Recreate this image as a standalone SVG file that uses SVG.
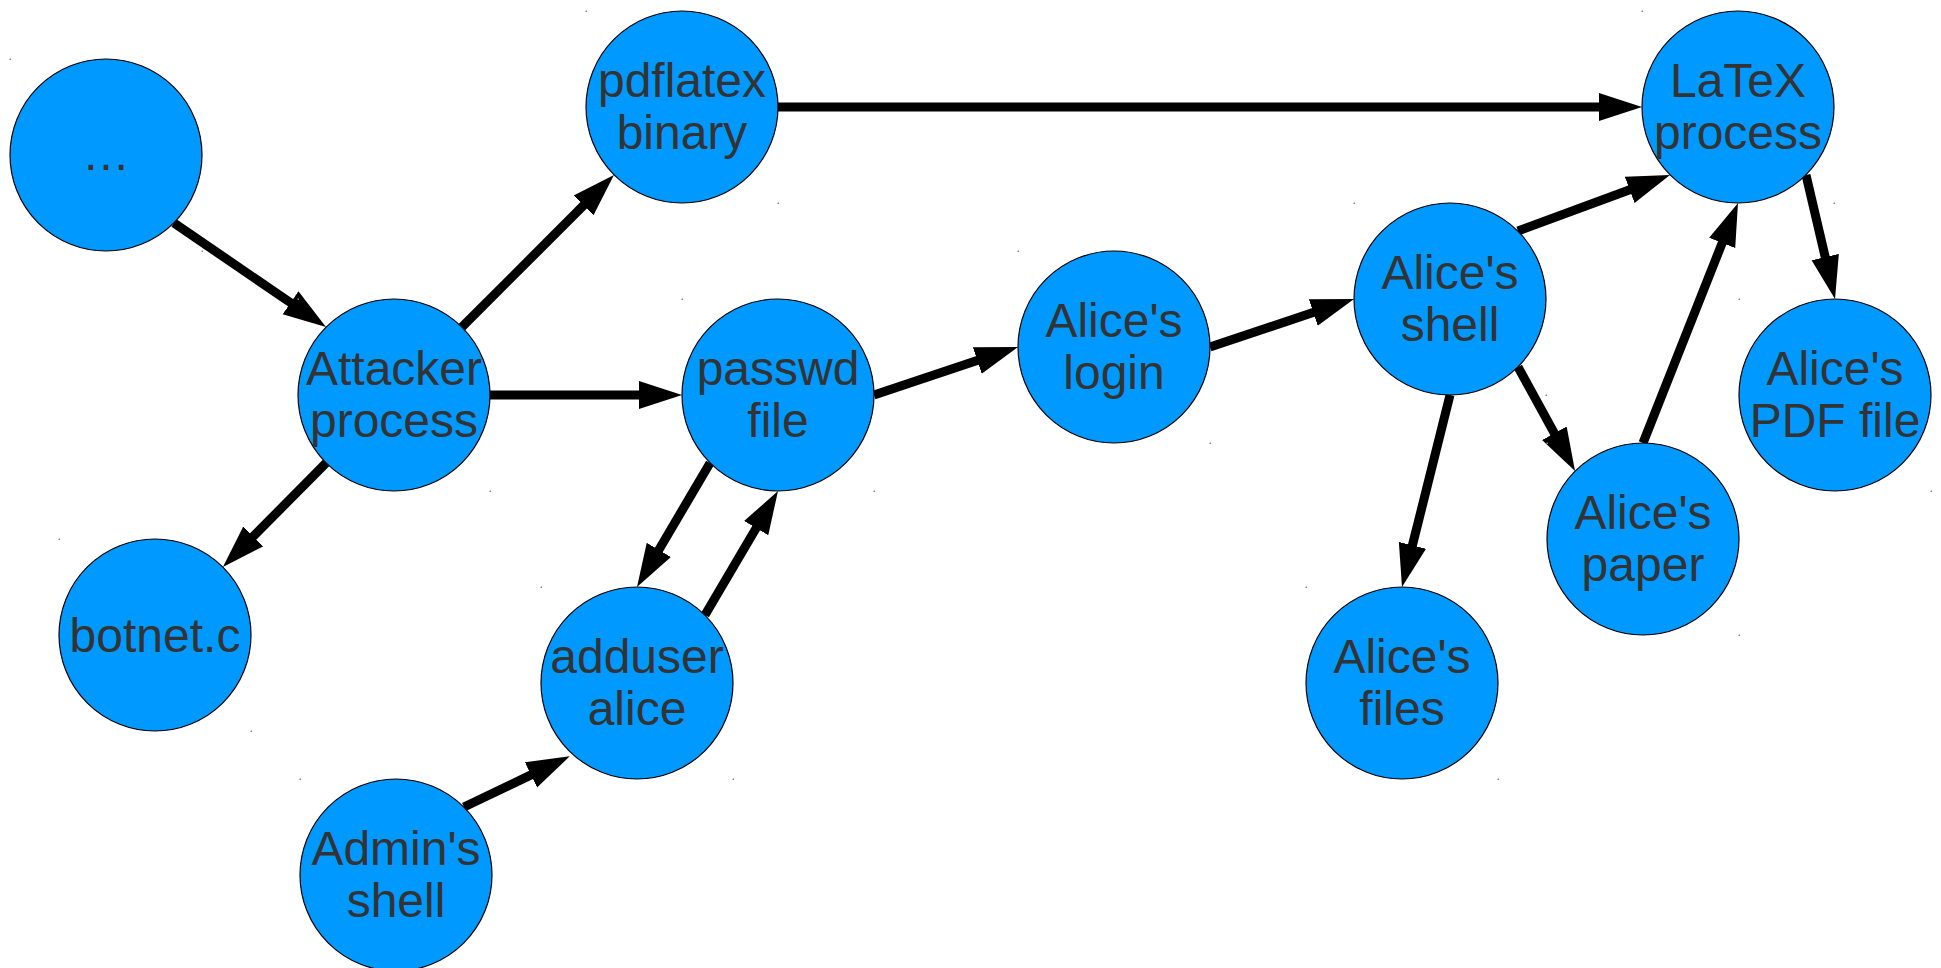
<svg xmlns="http://www.w3.org/2000/svg" width="1941" height="968" viewBox="0 0 1941 968">
  <style>
    .node circle { fill: #0099ff; stroke: #000; stroke-width: 1.2; }
    .node text { font-family: "Liberation Sans", Arial, sans-serif; font-size: 48px; fill: #333333; text-anchor: middle; }
    .corner { fill: #8a8a8a; }
    .edge { stroke: #000; stroke-width: 9; fill: none; marker-end: url(#arrow); }
  </style>
  <defs>
    <marker id="arrow" markerUnits="userSpaceOnUse" markerWidth="44" markerHeight="30" viewBox="0 0 44 30" refX="3" refY="15" orient="auto">
      <path d="M0,1 L43,15 L0,29 Z" fill="#000"/>
    </marker>
  </defs>
  <rect width="1941" height="968" fill="#ffffff"/>

  <!-- connectors: drawn first so arrowheads meet the circle outlines -->
  <g id="connectors">
    <line class="edge" x1="174" y1="223" x2="293" y2="304.4"/>
    <line class="edge" x1="462" y1="327" x2="585.7" y2="203.3"/>
    <line class="edge" x1="490" y1="395" x2="642" y2="395"/>
    <line class="edge" x1="326" y1="463" x2="251.1" y2="538.6"/>
    <line class="edge" x1="778" y1="107" x2="1602" y2="107"/>
    <line class="edge" x1="874" y1="395" x2="980.1" y2="359.6"/>
    <line class="edge" x1="1210" y1="347" x2="1316.1" y2="311.6"/>
    <line class="edge" x1="1518" y1="231" x2="1632.5" y2="188.8"/>
    <line class="edge" x1="1450" y1="395" x2="1411.7" y2="548.2"/>
    <line class="edge" x1="1518" y1="367" x2="1555.8" y2="435.9"/>
    <line class="edge" x1="1643" y1="443" x2="1723.3" y2="240.2"/>
    <line class="edge" x1="1806" y1="175" x2="1825.9" y2="260"/>
    <line class="edge" x1="710" y1="463" x2="657.3" y2="552.5"/>
    <line class="edge" x1="705" y1="615" x2="757.7" y2="525.5"/>
    <line class="edge" x1="464" y1="807" x2="533.7" y2="773.6"/>
  </g>

  <g id="node-ellipsis" class="node">
    <circle cx="106" cy="155" r="96"/>
    <text x="106" y="170">…</text>
    <rect class="corner" x="9.5" y="58.5" width="1.5" height="1.5"/>
    <rect class="corner" x="201.5" y="250.5" width="1.5" height="1.5"/>
  </g>
  <g id="node-pdflatex" class="node">
    <circle cx="682" cy="107" r="96"/>
    <text x="682" y="97">pdflatex</text>
    <text x="682" y="149">binary</text>
    <rect class="corner" x="585.5" y="10.5" width="1.5" height="1.5"/>
    <rect class="corner" x="777.5" y="202.5" width="1.5" height="1.5"/>
  </g>
  <g id="node-latex" class="node">
    <circle cx="1738" cy="107" r="96"/>
    <text x="1738" y="97">LaTeX</text>
    <text x="1738" y="149">process</text>
    <rect class="corner" x="1641.5" y="10.5" width="1.5" height="1.5"/>
    <rect class="corner" x="1833.5" y="202.5" width="1.5" height="1.5"/>
  </g>
  <g id="node-attacker" class="node">
    <circle cx="394" cy="395" r="96"/>
    <text x="394" y="385">Attacker</text>
    <text x="394" y="437">process</text>
    <rect class="corner" x="297.5" y="298.5" width="1.5" height="1.5"/>
    <rect class="corner" x="489.5" y="490.5" width="1.5" height="1.5"/>
  </g>
  <g id="node-passwd" class="node">
    <circle cx="778" cy="395" r="96"/>
    <text x="778" y="385">passwd</text>
    <text x="778" y="437">file</text>
    <rect class="corner" x="681.5" y="298.5" width="1.5" height="1.5"/>
    <rect class="corner" x="873.5" y="490.5" width="1.5" height="1.5"/>
  </g>
  <g id="node-alice-login" class="node">
    <circle cx="1114" cy="347" r="96"/>
    <text x="1114" y="337">Alice's</text>
    <text x="1114" y="389">login</text>
    <rect class="corner" x="1017.5" y="250.5" width="1.5" height="1.5"/>
    <rect class="corner" x="1209.5" y="442.5" width="1.5" height="1.5"/>
  </g>
  <g id="node-alice-shell" class="node">
    <circle cx="1450" cy="299" r="96"/>
    <text x="1450" y="289">Alice's</text>
    <text x="1450" y="341">shell</text>
    <rect class="corner" x="1353.5" y="202.5" width="1.5" height="1.5"/>
    <rect class="corner" x="1545.5" y="394.5" width="1.5" height="1.5"/>
  </g>
  <g id="node-alice-pdf" class="node">
    <circle cx="1835" cy="395" r="96"/>
    <text x="1835" y="385">Alice's</text>
    <text x="1835" y="437">PDF file</text>
    <rect class="corner" x="1738.5" y="298.5" width="1.5" height="1.5"/>
    <rect class="corner" x="1930.5" y="490.5" width="1.5" height="1.5"/>
  </g>
  <g id="node-alice-paper" class="node">
    <circle cx="1643" cy="539" r="96"/>
    <text x="1643" y="529">Alice's</text>
    <text x="1643" y="581">paper</text>
    <rect class="corner" x="1546.5" y="442.5" width="1.5" height="1.5"/>
    <rect class="corner" x="1738.5" y="634.5" width="1.5" height="1.5"/>
  </g>
  <g id="node-botnet" class="node">
    <circle cx="155" cy="635" r="96"/>
    <text x="155" y="652">botnet.c</text>
    <rect class="corner" x="58.5" y="538.5" width="1.5" height="1.5"/>
    <rect class="corner" x="250.5" y="730.5" width="1.5" height="1.5"/>
  </g>
  <g id="node-adduser" class="node">
    <circle cx="637" cy="683" r="96"/>
    <text x="637" y="673">adduser</text>
    <text x="637" y="725">alice</text>
    <rect class="corner" x="540.5" y="586.5" width="1.5" height="1.5"/>
    <rect class="corner" x="732.5" y="778.5" width="1.5" height="1.5"/>
  </g>
  <g id="node-alice-files" class="node">
    <circle cx="1402" cy="683" r="96"/>
    <text x="1402" y="673">Alice's</text>
    <text x="1402" y="725">files</text>
    <rect class="corner" x="1305.5" y="586.5" width="1.5" height="1.5"/>
    <rect class="corner" x="1497.5" y="778.5" width="1.5" height="1.5"/>
  </g>
  <g id="node-admin-shell" class="node">
    <circle cx="396" cy="875" r="96"/>
    <text x="396" y="865">Admin's</text>
    <text x="396" y="917">shell</text>
    <rect class="corner" x="299.5" y="778.5" width="1.5" height="1.5"/>
  </g>
</svg>
